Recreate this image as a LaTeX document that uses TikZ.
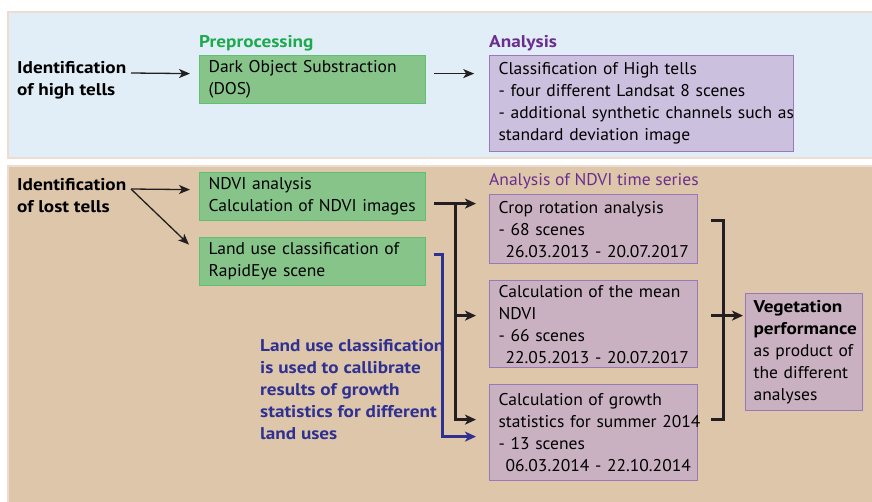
\documentclass[tikz,border=0pt]{standalone}
\usepackage{fontspec}
\setmainfont{PT Sans}[UprightFeatures={FakeStretch=1.03}, BoldFeatures={FakeStretch=1.13}]
\usetikzlibrary{arrows.meta}
\usetikzlibrary{positioning}

\definecolor{panelblue}{HTML}{E2EEF7}
\definecolor{paneltan}{HTML}{DEC6AA}
\definecolor{panelline}{HTML}{EEDCD0}
\definecolor{boxgreen}{HTML}{86C48A}
\definecolor{boxgreenline}{HTML}{5EC070}
\definecolor{titlegreen}{HTML}{1DAA4E}
\definecolor{titlepurple}{HTML}{6A2E8F}
\definecolor{boxlilac}{HTML}{CCC0DF}
\definecolor{boxmauve}{HTML}{C9B1C1}
\definecolor{boxpurpleline}{HTML}{9B78B6}
\definecolor{noteblue}{HTML}{2E3192}
\definecolor{inkblack}{HTML}{231F20}

\tikzset{
  txt/.style={font=\fontsize{17}{22}\selectfont, inner sep=0pt, align=left, anchor=base west},
  boldtxt/.style={txt, font=\fontsize{17}{22}\selectfont\bfseries},
  greenbox/.style={draw=boxgreenline, fill=boxgreen, line width=1.2pt, anchor=north west,
    font=\fontsize{17}{22}\selectfont, align=left, inner xsep=9pt, inner ysep=0pt},
  purplebox/.style={draw=boxpurpleline, fill=boxmauve, line width=1.2pt, anchor=north west,
    font=\fontsize{17}{22}\selectfont, align=left, inner xsep=9pt, inner ysep=0pt},
  thinarrow/.style={draw=inkblack, line width=1.3pt, -{Stealth[length=11pt,width=9pt,inset=3pt]}},
  bracket/.style={draw=inkblack, line width=3pt},
  bracketarrow/.style={bracket, -{Stealth[length=11pt,width=10pt,inset=3pt]}},
  bluearrow/.style={draw=noteblue, line width=3pt, -{Stealth[length=11pt,width=10pt,inset=3pt]}},
}

\begin{document}
\begin{tikzpicture}[x=1pt,y=-1pt]
  \useasboundingbox (0,0) rectangle (872,501);
  % panels
  \filldraw[fill=panelblue, draw=panelline, line width=1.5pt] (8,12) rectangle (880,158);
  \filldraw[fill=paneltan, draw=panelline, line width=1.5pt] (8,166) rectangle (880,510);

  % high tells
  \node[boldtxt] (high) at (17,95) {Identification\\of high tells};
  \node[boldtxt, text=titlegreen] (pretitle) at (199,47) {Preprocessing};
  \node[boldtxt, text=titlepurple] (anatitle) at (489,47) {Analysis};
  \node[greenbox, text width=208pt, minimum height=48pt] (dos) at (199,55)
    {Dark Object Substraction\\(DOS)};
  \node[purplebox, fill=boxlilac, text width=286pt, minimum height=96pt] (ana) at (489,55)
    {Classification of High tells\\- four different Landsat 8 scenes\\\mbox{- additional synthetic channels such as}\\standard deviation image};
  \draw[thinarrow] (131,73) -- ([yshift=6pt,xshift=-9pt]dos.west);
  \draw[thinarrow] ([xshift=8pt,yshift=6pt]dos.east) -- ++(40,0);

  % lost tells
  \node[boldtxt] (lost) at (17,212) {Identification\\of lost tells};
  \node[greenbox, text width=208pt, minimum height=48pt] (ndvi) at (199,172)
    {NDVI analysis\\\mbox{Calculation of NDVI images}};
  \node[greenbox, text width=208pt, minimum height=48pt] (landuse) at (199,237)
    {\mbox{Land use classification of}\\RapidEye scene};
  \coordinate (fork) at (131,189);
  \draw[thinarrow] (fork) -- ([yshift=7pt,xshift=-9pt]ndvi.west);
  \draw[thinarrow] (fork) -- ([yshift=17pt,xshift=-10pt]landuse.west);

  \node[txt, text=titlepurple] (seriestitle) at (489,185) {Analysis of NDVI time series};
  \node[purplebox, text width=190pt, minimum height=69pt] (crop) at (489,194)
    {Crop rotation analysis\\- 68 scenes\\\mbox{\hspace*{7pt}26.03.2013 - 20.07.2017}};
  \node[purplebox, text width=190pt, minimum height=87pt] (mean) at (489,280)
    {Calculation of the mean\\NDVI\\- 66 scenes\\\mbox{\hspace*{7pt}22.05.2013 - 20.07.2017}};
  \node[purplebox, text width=190pt, minimum height=96pt] (growth) at (489,384)
    {Calculation of growth\\\mbox{statistics for summer 2014}\\- 13 scenes\\\mbox{\hspace*{7pt}06.03.2014 - 22.10.2014}};
  \node[purplebox, text width=101pt, minimum height=117pt, inner xsep=8pt] (veg) at (745,293)
    {\textbf{Vegetation}\\\mbox{\textbf{performance}}\\as product of\\the different\\analyses};

  \node[boldtxt, text=noteblue] (note) at (260,439)
    {Land use classification\\is used to callibrate\\results of growth\\statistics for different\\land uses};

  % brackets into the time series
  \coordinate (ndviout) at ([xshift=8pt,yshift=-7pt]ndvi.east);
  \coordinate (spine) at (455,203);
  \coordinate (meanin) at ([xshift=-13pt,yshift=8.5pt]mean.west);
  \draw[bracketarrow] (ndviout) -- ([xshift=-13pt]crop.west |- ndviout);
  \draw[bracketarrow] (spine) |- ([xshift=-13pt,yshift=13pt]growth.west);
  \draw[bracketarrow] (spine |- meanin) -- (meanin);
  \draw[bluearrow] ([xshift=8pt,yshift=7pt]landuse.east) -- ++(8,0) |- ([xshift=-13pt,yshift=-4pt]growth.west);

  % bracket into vegetation performance
  \draw[bracket] ([xshift=13pt,yshift=8.5pt]crop.east) -- ++(12,0) |- ([xshift=13pt,yshift=13pt]growth.east);
  \coordinate (vegin) at ([xshift=13pt,yshift=8.5pt]mean.east);
  \draw[bracketarrow] (vegin) -- ([xshift=-2pt]vegin -| veg.west);
\end{tikzpicture}
\end{document}
